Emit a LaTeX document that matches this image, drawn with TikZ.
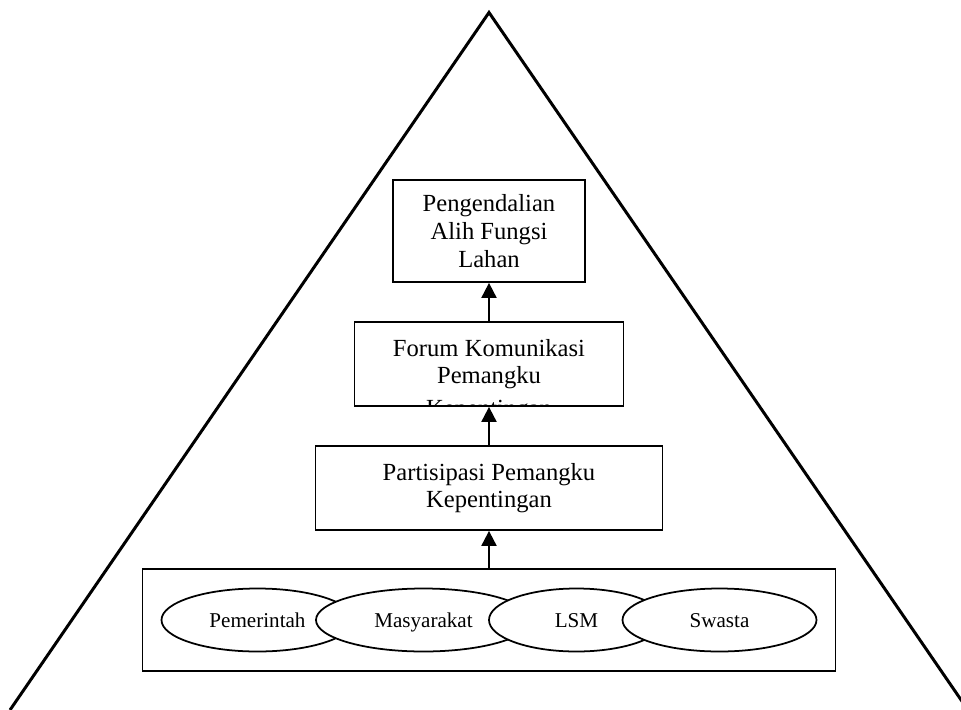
\documentclass[tikz,border=0pt]{standalone}
\usepackage{fontspec}
\setmainfont{Liberation Serif}
\usetikzlibrary{positioning,shapes.geometric,arrows.meta}

\begin{document}
\begin{tikzpicture}[
	node distance=2.6cm,
	on grid,
	kotak/.style={draw,line width=1pt,align=center,inner sep=0pt,
		font=\fontsize{14}{15.8}\selectfont},
	pihak/.style={ellipse,draw,fill=white,line width=1pt,
		minimum height=1.26cm,inner sep=0pt,text height=8.5pt,text depth=0pt,
		font=\fontsize{12}{13}\selectfont},
	naik/.style={-{Triangle[length=0.3cm,width=0.3cm]},line width=1.1pt},
	sisi/.style={line width=1.7pt}]

\useasboundingbox (0,0) rectangle (19.22,-14.2);

% Boxes
\node[kotak,
	minimum width=3.84cm, minimum height=2.04cm] (tujuan) at (9.78,-4.62)
	{Pengendalian\\Alih Fungsi\\Lahan};

\node[kotak,
	below=2.66cm of tujuan,
	minimum width=5.38cm, minimum height=1.68cm] (forum)
	{Forum Komunikasi\\Pemangku};

\node[kotak,
	below=2.48cm of forum,
	minimum width=6.94cm, minimum height=1.68cm] (partisipasi)
	{Partisipasi Pemangku\\Kepentingan};

\node[kotak,
	below=2.64cm of partisipasi,
	minimum width=13.86cm, minimum height=2.04cm] (wadah) {};

% third line of the forum box, cut off by its border
\begin{scope}
\clip (forum.south west) rectangle (forum.north east);
\node[anchor=base, font=\fontsize{14}{15.8}\selectfont] (forumsisa)
	at ([yshift=-1.04cm]forum.center) {Kepentingan};
\end{scope}

% Stakeholders
\node[pihak,
	minimum width=3.84cm] (pemerintah) at ([xshift=-4.63cm]wadah.center) {Pemerintah};

\node[pihak,
	right=3.32cm of pemerintah,
	minimum width=4.3cm] (masyarakat) {Masyarakat};

\node[pihak,
	right=3.06cm of masyarakat,
	minimum width=3.5cm] (lsm) {LSM};

\node[pihak,
	right=2.86cm of lsm,
	minimum width=3.88cm] (swasta) {Swasta};

% Triangle
\coordinate (puncak) at (9.78,-0.25);
\coordinate (kiri) at (0.2,-14.2);
\coordinate (kanan) at (19.36,-14.2);
\draw[sisi] (kiri) -- (puncak) -- (kanan);

% connections
\draw (wadah.north) edge[naik] (partisipasi.south)
	(partisipasi.north) edge[naik] (forum.south)
	(forum.north) edge[naik] (tujuan.south);

\end{tikzpicture}
\end{document}
